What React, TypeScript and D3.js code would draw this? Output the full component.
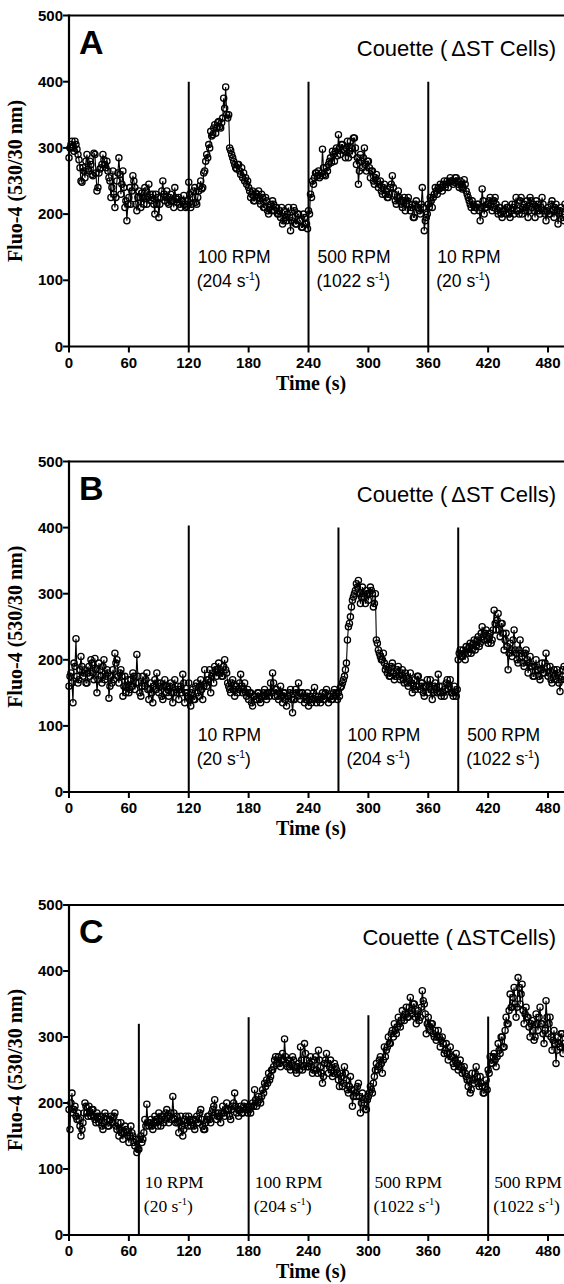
import React from 'react';
import * as d3 from 'd3';

// sampling interval of the traces (s)
const timeStep = 1;

// Panel A: 100 RPM @120 s, 500 RPM @240 s, 10 RPM @360 s
const seriesA = [
  285, 300, 305, 310, 300, 295, 310, 305, 298, 290,
  282, 270, 250, 248, 270, 265, 255, 280, 290, 268,
  265, 280, 275, 260, 258, 292, 290, 262, 235, 240,
  262, 268, 270, 275, 290, 282, 275, 270, 280, 265,
  255, 250, 225, 240, 265, 230, 210, 225, 250, 262,
  285, 260, 230, 245, 265, 240, 210, 220, 190, 215,
  225, 240, 215, 235, 258, 250, 240, 215, 205, 225,
  235, 225, 210, 232, 225, 215, 240, 235, 215, 225,
  245, 230, 220, 225, 230, 215, 200, 230, 215, 225,
  195, 215, 225, 235, 250, 230, 220, 225, 235, 218,
  215, 225, 230, 220, 220, 210, 240, 225, 218, 222,
  225, 215, 210, 220, 220, 228, 215, 210, 212, 220,
  248, 230, 210, 215, 225, 235, 240, 218, 215, 225,
  235, 242, 250, 238, 240, 262, 265, 280, 290, 285,
  305, 300, 325, 318, 320, 330, 335, 322, 330, 338,
  340, 332, 330, 338, 345, 375, 360, 392, 350, 345,
  350, 300, 296, 290, 285, 280, 275, 270, 268, 275,
  275, 265, 260, 270, 255, 262, 250, 255, 245, 250,
  240, 235, 225, 230, 235, 220, 220, 232, 230, 225,
  235, 220, 215, 230, 225, 210, 210, 225, 220, 205,
  200, 210, 215, 205, 220, 215, 205, 210, 210, 200,
  200, 205, 195, 210, 185, 190, 205, 195, 190, 200,
  210, 195, 175, 190, 195, 210, 205, 185, 185, 200,
  200, 190, 190, 180, 180, 200, 195, 185, 185, 178,
  205, 200, 230, 225, 250, 245, 255, 262, 262, 258,
  265, 255, 258, 262, 298, 270, 260, 258, 270, 265,
  275, 280, 285, 278, 295, 290, 280, 295, 300, 288,
  320, 300, 290, 305, 305, 298, 295, 285, 300, 310,
  285, 295, 310, 300, 290, 315, 315, 300, 275, 285,
  245, 265, 290, 280, 270, 285, 300, 275, 265, 280,
  280, 270, 255, 265, 265, 250, 245, 255, 260, 250,
  240, 245, 250, 235, 230, 240, 245, 230, 235, 225,
  225, 230, 240, 245, 258, 240, 230, 220, 215, 225,
  235, 225, 220, 215, 210, 220, 225, 205, 215, 220,
  225, 215, 205, 210, 215, 195, 195, 215, 220, 210,
  210, 205, 200, 215, 240, 210, 175, 190, 195, 200,
  215, 210, 225, 220, 210, 225, 230, 240, 235, 230,
  240, 238, 245, 240, 235, 245, 250, 240, 245, 250,
  240, 248, 255, 250, 250, 245, 248, 255, 255, 250,
  245, 240, 250, 245, 238, 240, 252, 245, 235, 230,
  225, 220, 215, 210, 220, 215, 205, 210, 210, 215,
  215, 205, 190, 210, 238, 220, 200, 210, 210, 215,
  215, 220, 225, 215, 205, 210, 220, 225, 215, 205,
  200, 210, 210, 200, 195, 205, 205, 215, 200, 210,
  210, 200, 195, 205, 215, 210, 200, 215, 225, 205,
  205, 200, 220, 225, 200, 210, 215, 205, 210, 220,
  195, 205, 225, 220, 210, 215, 205, 195, 220, 210,
  215, 205, 200, 210, 225, 215, 205, 200, 190, 205,
  210, 200, 200, 215, 220, 205, 195, 210, 215, 205,
  185, 200, 205, 210, 200, 195, 190, 215,
];

// Panel B: 10 RPM @120 s, 100 RPM @270 s, 500 RPM @390 s
const seriesB = [
  160, 175, 180, 165, 135, 195, 190, 232, 175, 165,
  170, 185, 205, 190, 175, 180, 185, 165, 165, 180,
  190, 175, 200, 195, 180, 170, 202, 185, 150, 170,
  195, 185, 175, 165, 190, 200, 170, 175, 185, 180,
  142, 160, 175, 165, 185, 170, 210, 195, 200, 175,
  165, 180, 185, 175, 145, 160, 175, 150, 160, 170,
  150, 155, 170, 160, 180, 175, 155, 165, 208, 175,
  165, 150, 145, 160, 175, 165, 160, 170, 180, 155,
  140, 155, 165, 150, 135, 160, 170, 155, 180, 165,
  150, 160, 165, 145, 140, 160, 170, 150, 160, 155,
  145, 160, 165, 150, 135, 150, 170, 155, 150, 160,
  140, 155, 160, 150, 178, 165, 135, 150, 150, 145,
  165, 140, 130, 150, 155, 140, 140, 160, 165, 150,
  145, 160, 170, 155, 140, 160, 185, 165, 160, 170,
  170, 185, 150, 175, 180, 165, 190, 185, 175, 185,
  195, 180, 185, 175, 175, 190, 200, 185, 180, 165,
  160, 155, 150, 165, 170, 155, 145, 160, 160, 150,
  155, 165, 178, 160, 150, 155, 165, 150, 145, 155,
  140, 150, 150, 135, 130, 145, 145, 140, 140, 150,
  150, 140, 135, 145, 145, 150, 155, 145, 140, 150,
  150, 145, 165, 150, 180, 165, 145, 155, 155, 145,
  140, 150, 160, 145, 135, 150, 150, 140, 130, 145,
  145, 150, 155, 140, 120, 140, 140, 155, 150, 145,
  165, 150, 140, 150, 150, 145, 135, 140, 145, 150,
  130, 140, 145, 135, 140, 150, 158, 145, 135, 140,
  145, 140, 135, 145, 150, 140, 140, 150, 155, 145,
  135, 145, 145, 140, 140, 150, 155, 145, 150, 140,
  150, 145, 158, 160, 165, 170, 175, 185, 195, 230,
  250, 255, 265, 280, 290, 295, 300, 305, 315, 310,
  320, 300, 285, 295, 310, 300, 295, 285, 305, 300,
  290, 300, 310, 305, 300, 280, 285, 300, 230, 225,
  215, 210, 205, 200, 200, 210, 195, 185, 190, 180,
  185, 175, 175, 190, 195, 180, 170, 175, 180, 185,
  190, 175, 170, 180, 185, 170, 165, 180, 175, 165,
  160, 170, 180, 165, 150, 160, 170, 155, 160, 175,
  175, 160, 155, 165, 165, 150, 145, 160, 160, 170,
  150, 160, 170, 155, 140, 150, 160, 165, 155, 150,
  178, 160, 150, 145, 160, 150, 145, 155, 165, 170,
  155, 160, 170, 150, 150, 145, 160, 150, 145, 155,
  200, 210, 215, 205, 205, 215, 210, 200, 220, 215,
  210, 220, 225, 210, 215, 225, 230, 215, 220, 230,
  235, 220, 225, 240, 250, 235, 230, 240, 245, 230,
  225, 235, 240, 225, 230, 245, 275, 255, 245, 260,
  270, 245, 235, 255, 255, 240, 215, 230, 240, 220,
  185, 210, 225, 215, 205, 230, 245, 215, 210, 200,
  195, 215, 230, 210, 205, 195, 190, 210, 215, 200,
  180, 195, 205, 190, 190, 175, 175, 190, 200, 185,
  185, 175, 170, 185, 195, 180, 180, 195, 210, 190,
  175, 180, 190, 170, 165, 180, 185, 175, 170, 185,
  180, 165, 152, 170, 175, 185, 190, 170,
];

// Panel C: 10 RPM @70 s, 100 RPM @180 s, 500 RPM @300 s, 500 RPM @420 s
const seriesC = [
  190, 160, 200, 215, 185, 190, 195, 180, 175, 185,
  175, 165, 150, 160, 170, 185, 200, 195, 185, 180,
  195, 185, 180, 190, 190, 180, 175, 170, 185, 180,
  170, 175, 180, 165, 160, 170, 185, 180, 175, 165,
  165, 175, 180, 170, 170, 180, 185, 165, 160, 170,
  150, 160, 170, 155, 145, 155, 165, 160, 155, 150,
  140, 150, 165, 155, 150, 140, 135, 145, 125, 130,
  130, 145, 150, 140, 145, 155, 175, 165, 198, 170,
  165, 170, 175, 165, 160, 170, 180, 175, 170, 165,
  185, 175, 165, 180, 180, 170, 175, 185, 190, 180,
  170, 180, 185, 175, 210, 185, 175, 170, 180, 170,
  155, 170, 180, 165, 150, 160, 175, 180, 170, 165,
  180, 175, 165, 170, 175, 165, 160, 175, 180, 170,
  170, 185, 190, 175, 165, 160, 160, 170, 175, 180,
  180, 175, 170, 185, 190, 195, 205, 185, 175, 180,
  185, 180, 170, 185, 195, 185, 180, 190, 200, 190,
  190, 180, 175, 190, 195, 200, 215, 195, 185, 190,
  180, 190, 195, 185, 185, 195, 200, 190, 190, 185,
  195, 190, 185, 195, 200, 195, 220, 205, 195, 200,
  210, 205, 200, 210, 220, 215, 230, 225, 235, 230,
  245, 235, 240, 250, 250, 255, 265, 270, 260, 265,
  270, 260, 255, 265, 275, 265, 297, 270, 260, 255,
  265, 255, 250, 260, 270, 265, 255, 250, 245, 255,
  260, 250, 285, 265, 250, 255, 290, 275, 265, 255,
  255, 260, 270, 255, 245, 250, 265, 270, 250, 245,
  280, 265, 255, 245, 230, 240, 260, 265, 275, 260,
  245, 255, 265, 250, 240, 245, 260, 255, 250, 245,
  235, 225, 245, 240, 225, 230, 255, 245, 235, 220,
  215, 225, 240, 220, 195, 210, 220, 215, 210, 225,
  230, 210, 185, 200, 215, 205, 200, 190, 190, 205,
  210, 215, 225, 220, 215, 230, 240, 250, 260, 250,
  255, 265, 270, 260, 245, 265, 285, 270, 280, 285,
  300, 290, 290, 305, 310, 300, 320, 310, 305, 315,
  330, 320, 315, 325, 340, 330, 325, 335, 345, 330,
  330, 345, 360, 340, 335, 350, 350, 330, 320, 335,
  340, 325, 330, 345, 370, 355, 350, 335, 305, 320,
  330, 315, 310, 320, 320, 305, 300, 310, 295, 300,
  310, 300, 285, 295, 300, 290, 275, 280, 290, 275,
  265, 275, 285, 270, 270, 260, 255, 265, 275, 260,
  250, 255, 265, 255, 245, 250, 255, 245, 240, 235,
  225, 235, 215, 220, 245, 235, 230, 245, 255, 240,
  230, 225, 240, 230, 225, 215, 215, 225, 235, 220,
  250, 245, 270, 260, 260, 270, 275, 265, 255, 270,
  290, 280, 275, 300, 300, 285, 285, 310, 330, 320,
  320, 340, 365, 345, 345, 360, 375, 350, 330, 345,
  390, 375, 350, 365, 380, 340, 320, 335, 345, 330,
  330, 315, 300, 320, 325, 310, 295, 300, 335, 320,
  310, 330, 345, 320, 320, 305, 290, 310, 355, 330,
  305, 320, 330, 300, 280, 295, 310, 290, 260, 280,
  300, 290, 285, 305, 305, 275, 290, 285,
];

const xTicks = [0, 60, 120, 180, 240, 300, 360, 420, 480];
const yTicks = [0, 100, 200, 300, 400, 500];

const markerTimesA = [120, 240, 360];
const markerTopsA = [400, 400, 400];
const rpmA = ['100 RPM', '500 RPM', '10 RPM'];
const shearA = ['204', '1022', '20'];

const markerTimesB = [120, 270, 390];
const markerTopsB = [403, 400, 400];
const rpmB = ['10 RPM', '100 RPM', '500 RPM'];
const shearB = ['20', '204', '1022'];

const markerTimesC = [70, 180, 300, 420];
const markerTopsC = [320, 330, 333, 331];
const rpmC = ['10 RPM', '100 RPM', '500 RPM', '500 RPM'];
const shearC = ['20', '204', '1022', '1022'];

const panelLetters = ['A', 'B', 'C'];
const titleHeads = ['Couette (', 'Couette (', 'Couette ('];
const titleTails = ['\u0394ST Cells)', '\u0394ST Cells)', '\u0394STCells)'];

const SANS = '"Liberation Sans", Arial, Helvetica, sans-serif';
const SERIF = '"Liberation Serif", "Times New Roman", Times, serif';

const W = 564;
const H = 1284;

const panels = [
  { y0: 346.5, y1: 15.5, series: seriesA, mt: markerTimesA, mtop: markerTopsA, rpm: rpmA, shear: shearA, font: SANS, fs: 17.5, l1: 84, l2: 60, dx: 9 },
  { y0: 792, y1: 461.5, series: seriesB, mt: markerTimesB, mtop: markerTopsB, rpm: rpmB, shear: shearB, font: SANS, fs: 17.5, l1: 51, l2: 27, dx: 9 },
  { y0: 1235, y1: 905, series: seriesC, mt: markerTimesC, mtop: markerTopsC, rpm: rpmC, shear: shearC, font: SERIF, fs: 17.5, l1: 47, l2: 23, dx: 6 },
];

const x = d3.scaleLinear().domain([0, 496]).range([69, 564]);

function Panel({ p, i }: { p: any; i: number }) {
  const y = d3.scaleLinear().domain([0, 500]).range([p.y0, p.y1]);
  const pts: [number, number][] = p.series.map((v: number, k: number) => [k * timeStep, v]);
  const line = d3.line<[number, number]>().x((d) => x(d[0])).y((d) => y(d[1]));
  const xMin = x(0);
  return (
    <g>
      {/* data */}
      <path d={line(pts) || ''} fill="none" stroke="#000" strokeWidth={1.1} />
      {pts.map((d, k) => (
        <circle key={k} cx={x(d[0])} cy={y(d[1])} r={3.1} fill="none" stroke="#000" strokeWidth={1.3} />
      ))}
      {/* stimulus markers */}
      {p.mt.map((t: number, k: number) => (
        <line key={'m' + k} x1={x(t)} x2={x(t)} y1={y(p.mtop[k])} y2={y(0)} stroke="#000" strokeWidth={2} />
      ))}
      {p.mt.map((t: number, k: number) => (
        <text key={'r' + k} fontFamily={p.font} fontSize={p.fs} fill="#000">
          <tspan x={x(t) + p.dx} y={p.y0 - p.l1}>{p.rpm[k]}</tspan>
          <tspan x={x(t) + p.dx - 1} y={p.y0 - p.l2}>{'(' + p.shear[k] + ' s'}</tspan>
          <tspan fontSize={p.fs * 0.6} dy={-7}>{'-1'}</tspan>
          <tspan dy={7}>{')'}</tspan>
        </text>
      ))}
      {/* axes */}
      <line x1={xMin} x2={W} y1={y(0)} y2={y(0)} stroke="#000" strokeWidth={2.2} />
      <line x1={xMin} x2={W} y1={y(500)} y2={y(500)} stroke="#000" strokeWidth={2.2} />
      <line x1={xMin} x2={xMin} y1={y(0) + 1} y2={y(500) - 1} stroke="#000" strokeWidth={2.2} />
      {yTicks.map((v) => (
        <g key={'y' + v}>
          <line x1={xMin - 6} x2={xMin} y1={y(v)} y2={y(v)} stroke="#000" strokeWidth={2} />
          <text x={xMin - 6} y={y(v) + 5} textAnchor="end" fontFamily={SANS} fontWeight="bold" fontSize={15}>{v}</text>
        </g>
      ))}
      {xTicks.map((t) => (
        <g key={'x' + t}>
          <line x1={x(t)} x2={x(t)} y1={y(0)} y2={y(0) + 6} stroke="#000" strokeWidth={2} />
          <text x={x(t)} y={y(0) + 21} textAnchor="middle" fontFamily={SANS} fontWeight="bold" fontSize={15}>{t}</text>
        </g>
      ))}
      <text x={311} y={p.y0 + 43} textAnchor="middle" fontFamily={SERIF} fontWeight="bold" fontSize={20}>Time (s)</text>
      <text transform={`translate(22,${(p.y0 + p.y1) / 2}) rotate(-90)`} textAnchor="middle" fontFamily={SERIF} fontWeight="bold" fontSize={20}>Fluo-4 (530/30 nm)</text>
      {/* panel letter and title */}
      <text x={79} y={p.y1 + 38} fontFamily={SANS} fontWeight="bold" fontSize={34}>{panelLetters[i]}</text>
      <text x={556} y={p.y1 + 40} textAnchor="end" fontFamily={SANS} fontSize={22}>
        {titleHeads[i]}
        <tspan dx={4}>{titleTails[i]}</tspan>
      </text>
    </g>
  );
}

export default function App() {
  return (
    <svg width={W} height={H} viewBox={`0 0 ${W} ${H}`} style={{ position: 'absolute', left: 0, top: 0, background: '#fff' }}>
      <rect width={W} height={H} fill="#fff" />
      {panels.map((p, i) => (
        <Panel key={i} p={p} i={i} />
      ))}
    </svg>
  );
}
